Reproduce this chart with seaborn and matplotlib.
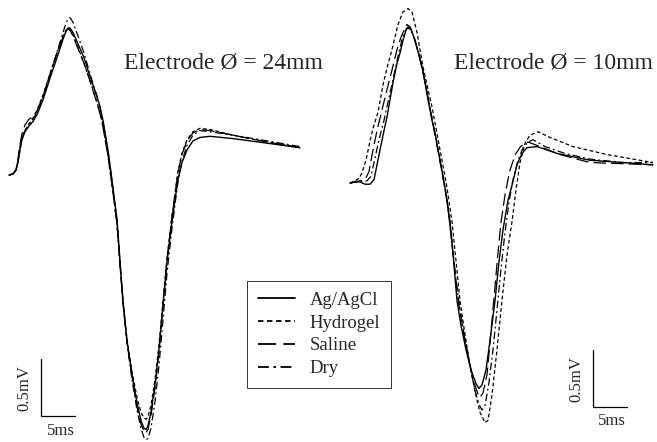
import matplotlib
matplotlib.use("Agg")
import matplotlib.pyplot as plt
import numpy as np
import pandas as pd
import seaborn as sns

# ---------------- data (time in ms, potential in mV, relative to baseline) ----------------
series_names = ["Ag/AgCl", "Hydrogel", "Saline", "Dry"]
panel_titles = ["Electrode Ø = 24mm", "Electrode Ø = 10mm"]
scale_v_label = "0.5mV"
scale_t_label = "5ms"
scale_v = 0.5
scale_t = 5.0

# Left panel (24 mm) - shared time grid
t_left = [0, 0.59, 1.03, 1.32, 1.62, 1.91, 2.35, 2.94, 3.53, 4.12, 5.00, 6.03, 7.06, 7.94,
          8.38, 8.67, 8.97, 9.41, 10.14, 11.03, 11.61, 12.35, 12.94, 13.38, 13.82, 14.55,
          15.14, 15.88, 16.32, 16.76, 17.35, 18.08, 18.82, 19.40, 19.85, 20.14, 20.43, 20.87,
          21.46, 22.05, 22.64, 23.23, 23.96, 24.40, 24.84, 25.43, 26.17, 27.05, 28.08, 29.55,
          32.93, 37.93, 42.78]
v_left_agagcl = [0, 0.01, 0.04, 0.11, 0.22, 0.31, 0.38, 0.43, 0.47, 0.53, 0.66, 0.85, 1.03, 1.19,
                 1.26, 1.29, 1.29, 1.25, 1.15, 1.03, 0.92, 0.79, 0.69, 0.60, 0.48, 0.22,
                 -0.04, -0.39, -0.75, -1.10, -1.45, -1.75, -2.00, -2.15, -2.22, -2.23, -2.20, -2.08,
                 -1.84, -1.53, -1.14, -0.76, -0.41, -0.22, -0.04, 0.11, 0.22, 0.30, 0.33, 0.34,
                 0.32, 0.28, 0.24]
v_left_hydrogel = [0, 0.01, 0.05, 0.13, 0.25, 0.33, 0.39, 0.45, 0.50, 0.57, 0.70, 0.89, 1.07, 1.22,
                   1.27, 1.29, 1.28, 1.23, 1.12, 0.98, 0.88, 0.75, 0.64, 0.55, 0.43, 0.17,
                   -0.09, -0.43, -0.78, -1.11, -1.44, -1.72, -1.95, -2.08, -2.13, -2.14, -2.12, -2.02,
                   -1.80, -1.49, -1.11, -0.73, -0.36, -0.16, 0.03, 0.19, 0.31, 0.38, 0.41, 0.40,
                   0.35, 0.29, 0.24]
v_left_saline = [0, 0.01, 0.05, 0.14, 0.27, 0.36, 0.44, 0.49, 0.51, 0.56, 0.69, 0.88, 1.07, 1.21,
                 1.26, 1.28, 1.27, 1.22, 1.11, 0.98, 0.88, 0.74, 0.63, 0.54, 0.42, 0.17,
                 -0.08, -0.43, -0.79, -1.13, -1.47, -1.77, -2.03, -2.18, -2.25, -2.26, -2.23, -2.11,
                 -1.87, -1.55, -1.14, -0.74, -0.37, -0.17, 0.02, 0.18, 0.30, 0.37, 0.40, 0.39,
                 0.35, 0.29, 0.24]
v_left_dry = [0, 0.01, 0.04, 0.11, 0.23, 0.32, 0.39, 0.44, 0.49, 0.55, 0.69, 0.88, 1.08, 1.25,
              1.33, 1.37, 1.38, 1.34, 1.22, 1.07, 0.95, 0.80, 0.69, 0.59, 0.47, 0.21,
              -0.05, -0.40, -0.76, -1.11, -1.47, -1.79, -2.06, -2.22, -2.30, -2.32, -2.31, -2.22,
              -1.99, -1.67, -1.27, -0.86, -0.47, -0.26, -0.06, 0.12, 0.26, 0.35, 0.39, 0.38,
              0.35, 0.30, 0.25]

# Right panel (10 mm) - one time axis per series
t_right_agagcl = [0, 0.74, 1.47, 2.21, 2.94, 3.53, 3.97, 4.41, 5.00, 5.44, 5.88, 6.32, 6.91, 7.35,
                  7.79, 8.23, 8.53, 8.97, 9.56, 10.14, 10.58, 11.03, 11.47, 12.05, 12.50, 13.24,
                  13.97, 14.71, 15.29, 15.73, 16.32, 17.05, 17.79, 18.53, 18.96, 19.40, 19.99,
                  20.58, 21.32, 21.90, 22.49, 23.23, 23.81, 24.55, 25.28, 26.02, 27.49, 30.43,
                  35.28, 40.13, 44.54]
v_right_agagcl = [0, 0.01, 0.01, -0.01, -0.01, 0.03, 0.16, 0.29, 0.46, 0.58, 0.73, 0.88, 1.05, 1.14,
                  1.25, 1.34, 1.37, 1.35, 1.25, 1.12, 1.02, 0.88, 0.73, 0.55, 0.44, 0.20,
                  -0.04, -0.34, -0.72, -1.03, -1.25, -1.46, -1.64, -1.76, -1.80, -1.77, -1.64,
                  -1.38, -1.03, -0.69, -0.41, -0.15, -0.02, 0.16, 0.26, 0.31, 0.32, 0.26,
                  0.20, 0.18, 0.16]
t_right_hydrogel = [0, 0.74, 1.32, 1.76, 2.35, 2.94, 3.38, 4.12, 4.85, 5.44, 6.17, 7.06, 7.79, 8.53,
                    9.11, 9.85, 10.73, 11.47, 12.05, 13.24, 14.26, 15.00, 15.58, 16.17, 16.91,
                    17.64, 18.38, 19.11, 19.85, 20.29, 20.87, 21.61, 22.34, 23.08, 23.81, 24.40,
                    24.99, 25.73, 26.46, 27.64, 29.41, 32.78, 37.78, 44.54]
v_right_hydrogel = [0, 0.02, 0.04, 0.09, 0.20, 0.37, 0.48, 0.62, 0.86, 1.01, 1.17, 1.39, 1.50, 1.53,
                    1.50, 1.32, 1.02, 0.82, 0.67, 0.29, -0.04, -0.34, -0.68, -1.03, -1.33,
                    -1.60, -1.83, -2.01, -2.10, -2.08, -1.86, -1.46, -1.03, -0.63, -0.34, -0.06,
                    0.18, 0.35, 0.42, 0.45, 0.40, 0.32, 0.25, 0.18]
t_right_saline = [0, 0.74, 1.47, 2.21, 2.79, 3.38, 3.97, 4.70, 5.44, 6.17, 6.91, 7.50, 8.09, 8.38,
                  8.82, 9.41, 10.14, 10.73, 11.32, 12.05, 12.79, 13.52, 14.26, 14.85, 15.44, 16.02,
                  16.76, 17.49, 18.23, 18.82, 19.11, 19.55, 20.14, 20.58, 21.12, 21.68, 22.20,
                  22.85, 23.50, 24.30, 25.06, 26.17, 27.93, 30.87, 35.28, 40.13, 44.54]
v_right_saline = [0, 0.01, 0.02, 0.03, 0.10, 0.29, 0.46, 0.64, 0.82, 0.99, 1.17, 1.28, 1.36, 1.39,
                  1.37, 1.28, 1.12, 0.97, 0.80, 0.57, 0.33, 0.10, -0.15, -0.46, -0.78, -1.07,
                  -1.33, -1.55, -1.75, -1.85, -1.88, -1.84, -1.68, -1.40, -1.04, -0.66, -0.34,
                  -0.08, 0.11, 0.25, 0.32, 0.36, 0.32, 0.25, 0.18, 0.17, 0.16]
t_right_dry = [0, 0.88, 1.76, 2.50, 3.09, 3.68, 4.26, 5.00, 5.73, 6.47, 7.20, 7.79, 8.23, 8.53,
               8.97, 9.56, 10.29, 10.88, 11.47, 12.20, 12.94, 13.67, 14.41, 15.00, 15.58, 16.17,
               16.91, 17.64, 18.38, 18.96, 19.40, 19.85, 20.43, 21.02, 21.61, 22.20, 22.79, 23.37,
               23.96, 24.70, 25.43, 26.17, 26.90, 28.67, 31.60, 35.28, 40.13, 44.54]
v_right_dry = [0, 0.01, 0.01, 0.02, 0.06, 0.22, 0.38, 0.55, 0.75, 0.95, 1.15, 1.29, 1.35, 1.36,
               1.34, 1.25, 1.10, 0.94, 0.75, 0.52, 0.29, 0.05, -0.21, -0.52, -0.85, -1.11,
               -1.38, -1.60, -1.82, -1.94, -1.99, -1.95, -1.75, -1.46, -1.11, -0.75, -0.43, -0.17,
               0.03, 0.20, 0.31, 0.36, 0.38, 0.32, 0.26, 0.21, 0.18, 0.18]

# ---------------- style ----------------
sns.set_theme(style="white")
plt.rcParams["font.family"] = ["Liberation Serif", "DejaVu Serif"]

line_styles = {
    "Ag/AgCl": dict(linestyle="-", linewidth=1.0),
    "Hydrogel": dict(linestyle=(0, (3, 2)), linewidth=0.9),
    "Saline": dict(linestyle=(0, (10, 4)), linewidth=0.9),
    "Dry": dict(linestyle=(0, (6, 2.5, 1.5, 2.5)), linewidth=0.9),
}

left_data = {
    "Ag/AgCl": (t_left, v_left_agagcl),
    "Hydrogel": (t_left, v_left_hydrogel),
    "Saline": (t_left, v_left_saline),
    "Dry": (t_left, v_left_dry),
}
right_data = {
    "Ag/AgCl": (t_right_agagcl, v_right_agagcl),
    "Hydrogel": (t_right_hydrogel, v_right_hydrogel),
    "Saline": (t_right_saline, v_right_saline),
    "Dry": (t_right_dry, v_right_dry),
}

W, H = 657, 442
fig = plt.figure(figsize=(W / 100, H / 100), dpi=100)
fig.patch.set_facecolor("white")
axL = fig.add_axes([0, 0, 328 / W, 1])
axR = fig.add_axes([330 / W, 0, 327 / W, 1])

for ax, data in ((axL, left_data), (axR, right_data)):
    for name in series_names:
        t, v = data[name]
        df = pd.DataFrame({"t": t, "v": v})
        sns.lineplot(data=df, x="t", y="v", ax=ax, color="black", estimator=None,
                     sort=False, legend=False, label=name, **line_styles[name])
    ax.set_axis_off()

axL.set_xlim(-1.32, 46.9)
axL.set_ylim(-2.34, 1.535)
axR.set_xlim(-2.94, 45.13)
axR.set_ylim(-2.27, 1.605)

# scale bars
def scale_bar(ax, t0, v0, tl, vl, tt, vt):
    ax.plot([t0, t0, t0 + scale_t], [v0 + scale_v, v0, v0], color="black", lw=0.9,
            solid_joinstyle="miter")
    ax.text(tl, vl, scale_v_label, rotation=90, ha="center", va="center", fontsize=12)
    ax.text(tt, vt, scale_t_label, ha="center", va="center", fontsize=12)

scale_bar(axL, 4.70, -2.11, 2.30, -1.87, 7.64, -2.245)
scale_bar(axR, 35.72, -1.96, 33.30, -1.72, 38.5, -2.09)

# titles
fig.text(223 / W, 1 - 63 / H, panel_titles[0], ha="center", va="center", fontsize=17)
fig.text(553 / W, 1 - 63 / H, panel_titles[1], ha="center", va="center", fontsize=17)

# legend
handles = axL.get_lines()[:4]
leg = fig.legend(handles, series_names, loc="center",
                 bbox_to_anchor=(319 / W, 1 - 334.5 / H), frameon=True, fancybox=False,
                 fontsize=13.5, handlelength=2.0, handletextpad=0.75, labelspacing=0.3,
                 borderpad=0.6)
leg.get_frame().set_edgecolor("black")
leg.get_frame().set_linewidth(0.7)
for lh in leg.get_lines():
    lh.set_linewidth(1.3)

fig.savefig("out.png", dpi=100, facecolor="white")
